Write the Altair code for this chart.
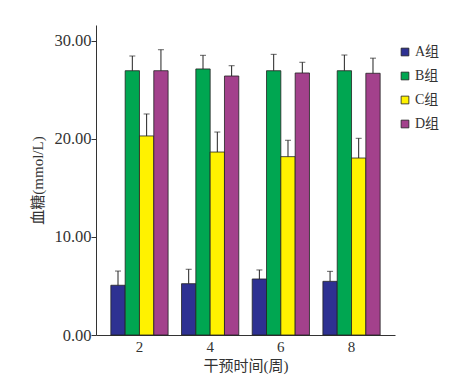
import altair as alt
import pandas as pd

weeks = ["2", "4", "6", "8"]
groups = ["A组", "B组", "C组", "D组"]
colors = ["#2E3192", "#00A651", "#FFF200", "#A3418C"]

mean_A = [5.07, 5.23, 5.71, 5.47]
mean_B = [26.94, 27.12, 26.94, 26.94]
mean_C = [20.29, 18.65, 18.18, 18.04]
mean_D = [26.94, 26.40, 26.71, 26.68]

sd_A = [1.45, 1.47, 0.92, 1.02]
sd_B = [1.50, 1.39, 1.67, 1.60]
sd_C = [2.24, 2.04, 1.67, 2.01]
sd_D = [2.14, 1.05, 1.09, 1.54]

means = [mean_A, mean_B, mean_C, mean_D]
sds = [sd_A, sd_B, sd_C, sd_D]

rows = []
for g, m, s in zip(groups, means, sds):
    for w, mv, sv in zip(weeks, m, s):
        rows.append({"week": w, "group": g, "mean": mv, "upper": mv + sv})
df = pd.DataFrame(rows)

FONT = "Liberation Serif, Noto Sans CJK SC"
AX = dict(labelFont=FONT, titleFont=FONT, titleFontSize=15,
          labelColor="#333", titleColor="#333", titleFontWeight="normal",
          domainColor="#333", tickColor="#333", domainWidth=1)

x_enc = alt.X("week:N", sort=weeks,
              scale=alt.Scale(paddingInner=0.19, paddingOuter=0.21),
              axis=alt.Axis(title="干预时间(周)", labelAngle=0, ticks=False, labelFontSize=15,
                            labelPadding=4, titlePadding=4, **AX))
xoff = alt.XOffset("group:N", sort=groups, scale=alt.Scale(paddingInner=0, paddingOuter=0))

base = alt.Chart(df)

bars = base.mark_bar(stroke="#222", strokeWidth=0.8).encode(
    x=x_enc,
    xOffset=xoff,
    y=alt.Y("mean:Q",
            scale=alt.Scale(domain=[0, 31.6], nice=False, zero=True),
            axis=alt.Axis(title="血糖(mmol/L)", values=[0, 10, 20, 30], format=".2f",
                          grid=False, tickSize=5, labelPadding=0, labelFontSize=16.5,
                          titlePadding=8, **AX)),
    color=alt.Color("group:N", sort=groups,
                    scale=alt.Scale(domain=groups, range=colors),
                    legend=alt.Legend(title=None, orient="none", legendX=302, legendY=20,
                                      symbolType="square", symbolSize=60,
                                      symbolStrokeColor="#222", symbolStrokeWidth=0.8,
                                      labelFont=FONT, labelFontSize=14, labelColor="#333",
                                      rowPadding=10, labelOffset=3, padding=0)),
)

err = base.mark_rule(color="#222", strokeWidth=1).encode(
    x=alt.X("week:N", sort=weeks), xOffset=xoff,
    y="mean:Q", y2="upper:Q",
)

cap = base.mark_tick(color="#222", thickness=1, size=6).encode(
    x=alt.X("week:N", sort=weeks), xOffset=xoff,
    y="upper:Q",
)

chart = alt.layer(bars, err, cap).properties(
    width=299, height=310,
    background="white",
    autosize=alt.AutoSizeParams(type="none"),
    padding={"left": 88, "top": 17, "right": 60, "bottom": 50},
).configure_view(stroke=None)

chart.save("out.html", embed_options={"renderer": "svg", "actions": False})
